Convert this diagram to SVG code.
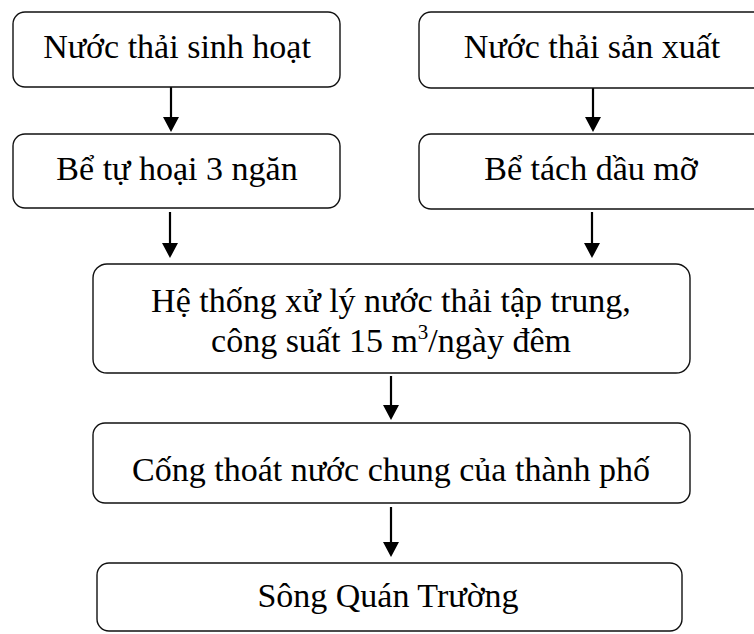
<svg xmlns="http://www.w3.org/2000/svg" width="754" height="634" viewBox="0 0 754 634">
  <defs>
    <marker id="arrowhead" markerUnits="userSpaceOnUse" markerWidth="16" markerHeight="16" refX="8" refY="15" orient="auto-start-reverse" viewBox="0 0 16 16">
      <path d="M0,0 L16,0 L8,15 Z" fill="#000" transform="rotate(0)"/>
    </marker>
    <style>
      .box { fill: #fff; stroke: #111; stroke-width: 1.4; }
      .label { font-family: "Liberation Serif", "Times New Roman", serif; font-size: 34px; fill: #000; text-anchor: middle; }
      .flow { stroke: #000; stroke-width: 2.2; fill: none; }
    </style>
  </defs>
  <rect width="754" height="634" fill="#fff"/>

  <!-- connectors -->
  <g id="connectors">
    <line class="flow" x1="171" y1="87" x2="171" y2="118"/>
    <path d="M163,117 L179,117 L171,132 Z" fill="#000"/>
    <line class="flow" x1="593" y1="88" x2="593" y2="118"/>
    <path d="M585,117 L601,117 L593,132 Z" fill="#000"/>
    <line class="flow" x1="170" y1="212" x2="170" y2="244"/>
    <path d="M162,243 L178,243 L170,258 Z" fill="#000"/>
    <line class="flow" x1="592" y1="212" x2="592" y2="244"/>
    <path d="M584,243 L600,243 L592,258 Z" fill="#000"/>
    <line class="flow" x1="391" y1="376" x2="391" y2="406"/>
    <path d="M383,405 L399,405 L391,420 Z" fill="#000"/>
    <line class="flow" x1="391" y1="507" x2="391" y2="543"/>
    <path d="M383,542 L399,542 L391,557 Z" fill="#000"/>
  </g>

  <!-- nodes -->
  <g id="node-sinh-hoat">
    <rect class="box" x="13" y="12" width="327" height="75" rx="12"/>
    <text class="label" x="177" y="58">Nước thải sinh hoạt</text>
  </g>
  <g id="node-san-xuat">
    <rect class="box" x="419" y="12" width="348" height="76" rx="12"/>
    <text class="label" x="592" y="58">Nước thải sản xuất</text>
  </g>
  <g id="node-tu-hoai">
    <rect class="box" x="13" y="134" width="327" height="74" rx="12"/>
    <text class="label" x="177" y="180">Bể tự hoại 3 ngăn</text>
  </g>
  <g id="node-tach-dau">
    <rect class="box" x="419" y="134" width="348" height="75" rx="12"/>
    <text class="label" x="591" y="180">Bể tách dầu mỡ</text>
  </g>
  <g id="node-xu-ly">
    <rect class="box" x="93" y="264" width="597" height="109" rx="14"/>
    <text class="label" x="391" y="312">Hệ thống xử lý nước thải tập trung,</text>
    <text class="label" x="391" y="352">công suất 15 m<tspan font-size="21" dy="-13">3</tspan><tspan dy="13">/ngày đêm</tspan></text>
  </g>
  <g id="node-cong-thoat">
    <rect class="box" x="93" y="423" width="597" height="80" rx="12"/>
    <text class="label" x="391" y="481">Cống thoát nước chung của thành phố</text>
  </g>
  <g id="node-song">
    <rect class="box" x="97" y="563" width="585" height="68" rx="12"/>
    <text class="label" x="388" y="607">Sông Quán Trường</text>
  </g>
</svg>
